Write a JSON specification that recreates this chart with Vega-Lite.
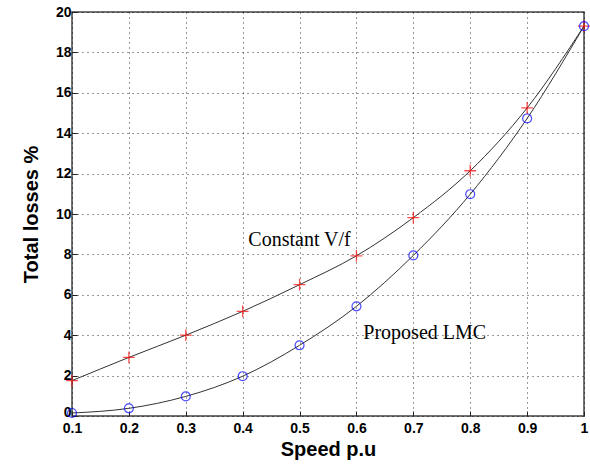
{
  "$schema": "https://vega.github.io/schema/vega-lite/v6.json",
  "width": 512,
  "height": 404,
  "autosize": "none",
  "padding": {"left": 72, "top": 12, "right": 6, "bottom": 51},
  "background": "white",
  "config": {
    "view": {"stroke": "#444", "strokeWidth": 1.5},
    "axis": {
      "grid": true,
      "gridColor": "#000",
      "gridDash": [1, 4],
      "gridOpacity": 0.8,
      "domain": false,
      "tickColor": "#222",
      "tickSize": -5,
      "labelFont": "Liberation Sans",
      "labelFontWeight": "bold",
      "labelFontSize": 14,
      "labelColor": "#000",
      "titleFont": "Liberation Sans",
      "titleFontWeight": "bold",
      "titleFontSize": 20,
      "titleColor": "#000"
    }
  },
  "data": {
    "values": [
      {"speed": 0.1, "loss": 1.75, "method": "Constant V/f"},
      {"speed": 0.2, "loss": 2.9, "method": "Constant V/f"},
      {"speed": 0.3, "loss": 4.0, "method": "Constant V/f"},
      {"speed": 0.4, "loss": 5.18, "method": "Constant V/f"},
      {"speed": 0.5, "loss": 6.5, "method": "Constant V/f"},
      {"speed": 0.6, "loss": 7.93, "method": "Constant V/f"},
      {"speed": 0.7, "loss": 9.82, "method": "Constant V/f"},
      {"speed": 0.8, "loss": 12.14, "method": "Constant V/f"},
      {"speed": 0.9, "loss": 15.25, "method": "Constant V/f"},
      {"speed": 1.0, "loss": 19.3, "method": "Constant V/f"},
      {"speed": 0.1, "loss": 0.15, "method": "Proposed LMC"},
      {"speed": 0.2, "loss": 0.38, "method": "Proposed LMC"},
      {"speed": 0.3, "loss": 0.97, "method": "Proposed LMC"},
      {"speed": 0.4, "loss": 1.97, "method": "Proposed LMC"},
      {"speed": 0.5, "loss": 3.5, "method": "Proposed LMC"},
      {"speed": 0.6, "loss": 5.43, "method": "Proposed LMC"},
      {"speed": 0.7, "loss": 7.95, "method": "Proposed LMC"},
      {"speed": 0.8, "loss": 10.98, "method": "Proposed LMC"},
      {"speed": 0.9, "loss": 14.73, "method": "Proposed LMC"},
      {"speed": 1.0, "loss": 19.3, "method": "Proposed LMC"}
    ]
  },
  "encoding": {
    "x": {
      "field": "speed", "type": "quantitative",
      "scale": {"domain": [0.1, 1], "nice": false, "zero": false},
      "axis": {"values": [0.1,0.2,0.3,0.4,0.5,0.6,0.7,0.8,0.9,1], "format": ".1~f", "title": "Speed p.u", "labelPadding": 10, "titlePadding": 4, "labelFlush": false}
    },
    "y": {
      "field": "loss", "type": "quantitative",
      "scale": {"domain": [0, 20], "nice": false},
      "axis": {
        "values": [0,2,4,6,8,10,12,14,16,18,20], "title": "Total losses %", "labelPadding": 6, "titlePadding": 14, "labelFlush": false,
        "labelBaseline": {"condition": {"test": "datum.value === 0", "value": "alphabetic"}, "value": "middle"}
      }
    }
  },
  "layer": [
    {
      "mark": {"type": "line", "color": "#333", "strokeWidth": 1, "interpolate": "monotone"},
      "encoding": {"detail": {"field": "method"}}
    },
    {
      "transform": [{"filter": "datum.method === 'Constant V/f'"}],
      "mark": {"type": "point", "shape": "M-1,0L1,0M0,-1L0,1", "color": "#ff0000", "size": 140, "strokeWidth": 1.3, "filled": false}
    },
    {
      "transform": [{"filter": "datum.method === 'Proposed LMC'"}],
      "mark": {"type": "point", "shape": "circle", "color": "#0000ff", "size": 80, "strokeWidth": 1.2, "filled": false}
    },
    {
      "data": {"values": [
        {"tx": 0.5, "ty": 8.7, "label": "Constant V/f"},
        {"tx": 0.72, "ty": 4.1, "label": "Proposed LMC"}
      ]},
      "mark": {"type": "text", "font": "Liberation Serif", "fontSize": 20, "color": "#000", "align": "center", "baseline": "middle"},
      "encoding": {
        "x": {"field": "tx", "type": "quantitative"},
        "y": {"field": "ty", "type": "quantitative"},
        "text": {"field": "label"}
      }
    }
  ]
}
